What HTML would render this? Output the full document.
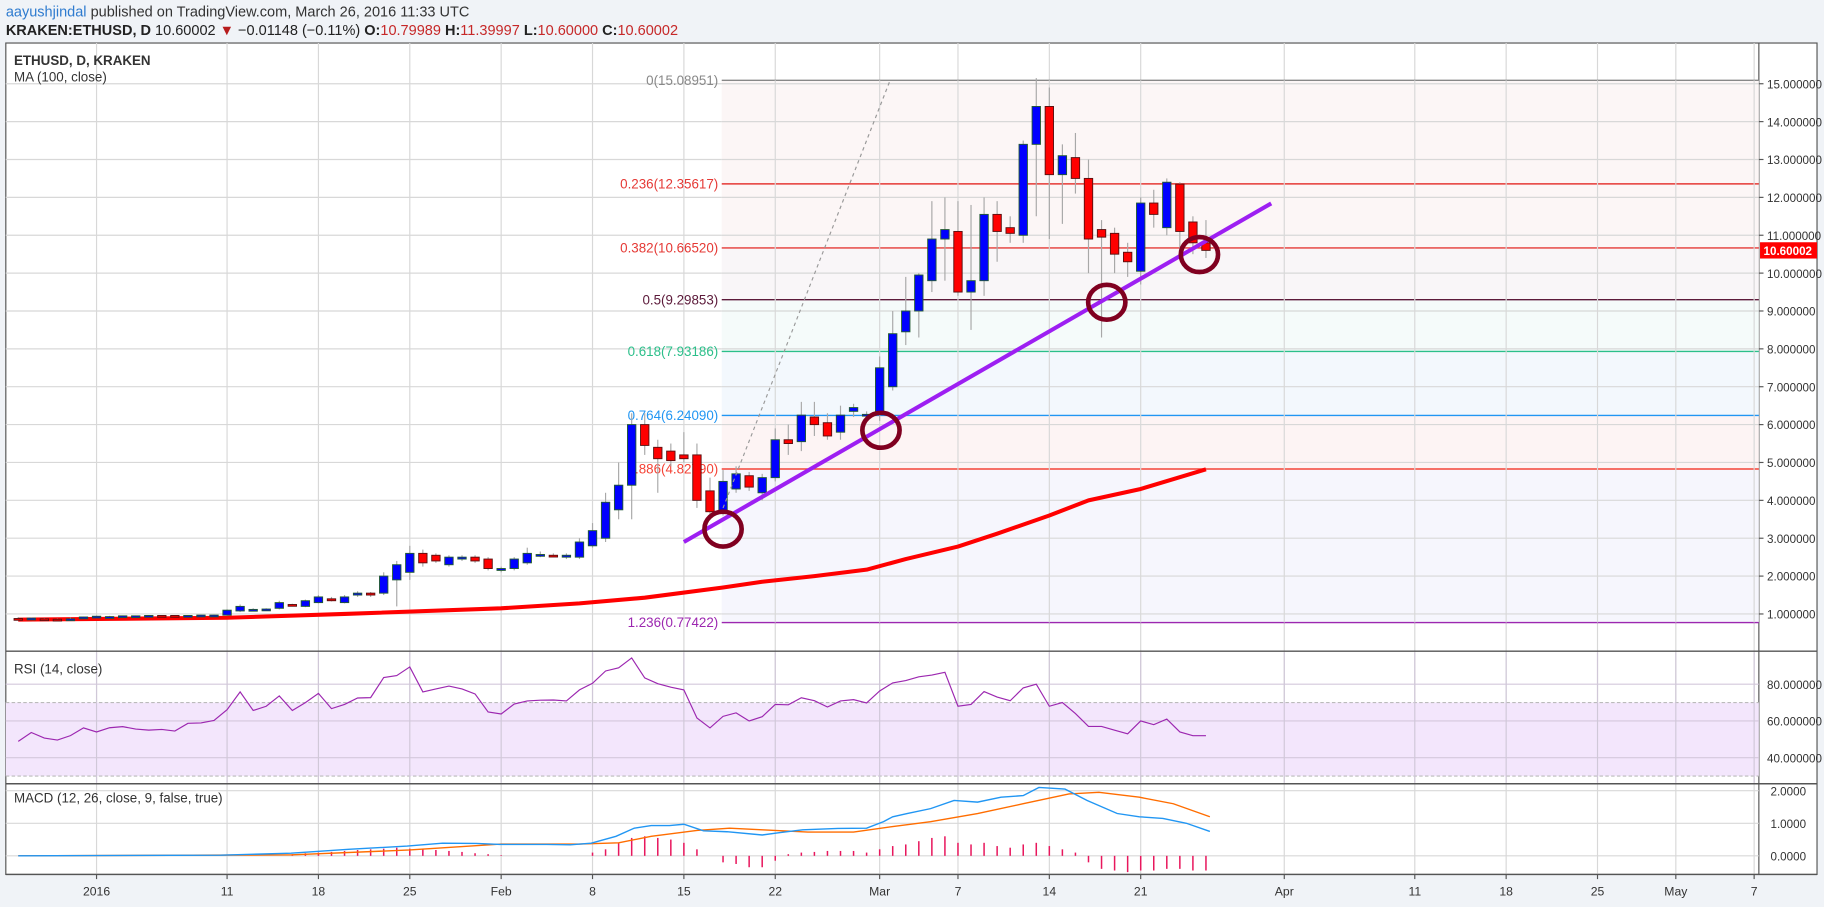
<!DOCTYPE html>
<html><head><meta charset="utf-8">
<style>
html,body{margin:0;padding:0;background:#f0f3f7;}
svg{display:block;font-family:"Liberation Sans",sans-serif;}
</style></head>
<body>
<svg id="chart" width="1824" height="907" viewBox="0 0 1568 780" preserveAspectRatio="none" xmlns="http://www.w3.org/2000/svg">
<rect x="0" y="0" width="1568" height="780" fill="#f0f3f7"/>
<text x="5" y="14" font-size="12.5" fill="#333"><tspan fill="#2e7bcf">aayushjindal</tspan> published on TradingView.com, March 26, 2016 11:33 UTC</text>
<text x="5" y="30" font-size="12.5" fill="#222"><tspan font-weight="bold">KRAKEN:ETHUSD, D</tspan> 10.60002 <tspan fill="#b71c1c">▼</tspan> −0.01148 (−0.11%) <tspan font-weight="bold">O:</tspan><tspan fill="#c62828">10.79989</tspan> <tspan font-weight="bold">H:</tspan><tspan fill="#c62828">11.39997</tspan> <tspan font-weight="bold">L:</tspan><tspan fill="#c62828">10.60000</tspan> <tspan font-weight="bold">C:</tspan><tspan fill="#c62828">10.60002</tspan></text>
<rect x="5" y="37" width="1557" height="715" fill="#fff" stroke="#555" stroke-width="1"/>
<g id="grid"></g>
<g id="fib"></g>
<g id="ma"></g>
<g id="candles"></g>
<g id="overlay"></g>
<g id="rsi"></g>
<g id="macd"></g>
<g id="axes"></g>
<text x="12" y="56" font-size="11.5" font-weight="bold" fill="#333">ETHUSD, D, KRAKEN</text>
<text x="12" y="70" font-size="11.5" fill="#333">MA (100, close)</text>
<text x="12" y="579" font-size="11.5" fill="#333">RSI (14, close)</text>
<text x="12" y="690" font-size="11.5" fill="#333">MACD (12, 26, close, 9, false, true)</text>
</svg>
<script>
const startDay=-6;
const opens=[0.88,0.86,0.87,0.86,0.85,0.90,0.93,0.93,0.94,0.95,0.95,0.96,0.96,0.95,0.97,0.97,
0.97,1.08,1.1,1.11,1.15,1.25,1.2,1.3,1.4,1.3,1.5,1.55,1.55,1.9,2.1,2.6,2.55,2.3,2.45,2.5,2.45,2.15,2.2,2.35,2.55,2.55,2.5,2.5,2.8,3.0,3.75,4.4,6.0,5.4,5.3,5.2,5.2,4.25,3.7,4.3,4.65,4.2,4.6,5.6,5.55,6.2,6.05,5.8,6.35,6.25,6.3,7.0,8.45,9.0,9.8,10.9,11.1,9.5,9.8,11.55,11.2,11.0,13.4,14.4,12.6,13.05,12.5,11.15,11.05,10.55,10.05,11.85,11.2,12.35,11.35,10.8];
const closes=[0.86,0.89,0.86,0.85,0.87,0.92,0.94,0.93,0.95,0.95,0.96,0.95,0.95,0.96,0.97,0.97,
1.10,1.2,1.12,1.13,1.3,1.24,1.35,1.45,1.35,1.45,1.55,1.5,2.0,2.3,2.6,2.35,2.4,2.5,2.5,2.4,2.2,2.2,2.45,2.6,2.57,2.53,2.55,2.9,3.2,3.95,4.4,6.0,5.45,5.1,5.05,5.1,4.0,3.7,4.5,4.7,4.35,4.6,5.6,5.5,6.25,6.0,5.7,6.25,6.45,6.27,7.5,8.4,9.0,9.95,10.9,11.15,9.5,9.8,11.55,11.1,11.05,13.4,14.4,12.6,13.1,12.5,10.9,10.95,10.5,10.3,11.85,11.55,12.4,11.1,10.8,10.6];
const highs=[0.92,0.9,0.89,0.88,0.9,0.93,0.95,0.95,0.96,0.96,0.97,0.97,0.97,0.97,0.98,0.98,
1.12,1.25,1.15,1.15,1.35,1.27,1.38,1.5,1.45,1.5,1.6,1.58,2.1,2.4,2.8,2.7,2.6,2.55,2.55,2.55,2.5,2.25,2.5,2.75,2.65,2.6,2.6,3.0,3.4,4.2,5.0,6.3,6.3,5.6,5.5,5.8,5.5,4.6,4.8,4.9,4.75,4.7,5.9,6.0,6.6,6.6,6.3,6.5,6.55,6.35,7.8,9.0,9.9,10.0,11.9,12.0,11.9,11.8,12.0,11.9,11.5,13.5,15.15,14.9,13.4,13.7,13.0,11.4,11.2,10.8,12.0,12.2,12.5,12.4,11.5,11.4];
const lows=[0.84,0.85,0.85,0.84,0.85,0.89,0.92,0.92,0.93,0.94,0.94,0.94,0.94,0.94,0.96,0.96,
0.95,1.05,1.08,1.09,1.12,1.22,1.18,1.28,1.33,1.28,1.45,1.45,1.5,1.2,1.9,2.25,2.35,2.25,2.4,2.35,2.15,2.1,2.15,2.3,2.5,2.5,2.45,2.45,2.75,2.9,3.5,3.5,5.2,4.2,4.9,5.0,3.8,3.5,3.6,4.2,4.25,4.0,4.5,5.2,5.3,5.7,5.6,5.6,6.2,6.1,6.1,6.9,8.1,8.3,9.5,9.8,9.4,8.5,9.4,10.3,10.8,10.8,11.5,10.9,11.3,12.1,10.0,8.3,10.0,9.9,9.7,11.2,11.0,10.6,10.5,10.4];
const maDays=[-6,10,19,31,37,42,48,51,55,59,62,66,69,73,76,80,85];
const maVals=[0.85,0.9,1.0,1.15,1.28,1.43,1.7,1.85,2.0,2.17,2.45,2.78,3.12,3.6,4.0,4.3,4.82];
const rsiVals=[48.9,53.7,50.7,49.6,52,56.2,54,56.3,56.9,55.6,55,55.4,54.5,58.7,58.9,60.3,66.1,75.8,65.7,68,73.6,65.7,70,75,66.7,69,72.5,72.7,83.6,84.7,89.4,75.8,77.4,79,77.4,74.7,64.9,63.8,69.2,70.9,71.3,71.4,70.9,76.9,80.5,87.2,88.9,94.3,83.4,80.3,78.4,76.9,61.6,56.2,62.5,64.4,60,62.3,69,68.8,72.6,71,67.6,70.9,71.6,69.8,76.3,80.7,
82,84,85,86.5,68,69,76,73,71,78,80,68,70,64,57,57,55,53,60,58,61,54,52,52];
const macdDays=[-6,9.5,14.9,19.3,23.8,26.5,29.1,30.9,34.5,36.3,37.9,39.8,41.2,42.5,43.9,45,46.5,48.3,51,52.3,54.1,56.8,59,60.3,61,62.1,63.9,65.7,67.5,69.3,71,72.2,74.2,75.9,78.2,79.9,81.7,83.5,85.3];
const macdVals=[0,0.02,0.08,0.2,0.3,0.39,0.38,0.35,0.35,0.34,0.39,0.6,0.85,0.93,0.93,0.97,0.77,0.74,0.64,0.71,0.8,0.84,0.85,1.05,1.2,1.3,1.45,1.7,1.65,1.8,1.85,2.1,2.05,1.7,1.3,1.2,1.15,1.0,0.75];
const signalDays=[-6,15,24,31,37,40,42.5,46,48.5,51,54.5,58,61,63.9,67.5,71,74.5,76.8,79.9,82.5,85.3];
const signalVals=[0,0.03,0.18,0.36,0.36,0.4,0.6,0.78,0.85,0.8,0.73,0.73,0.9,1.05,1.3,1.6,1.9,1.95,1.8,1.6,1.2];
const histVals=[0,0,0,0,0,0,0,0,0,0,0,0,0,0,0,0,0,0,0,0,0,
0.05,0.08,0.1,0.12,0.15,0.18,0.2,0.22,0.25,0.22,0.2,0.18,0.15,0.12,0.08,0.05,0.02,
0,0,0,0,0,0,
0.1,0.2,0.4,0.55,0.6,0.55,0.5,0.4,0.2,0,-0.2,-0.25,-0.35,-0.35,-0.15,0.05,0.1,0.12,0.15,0.15,0.15,0.1,0.2,0.3,0.35,0.45,0.55,0.6,0.4,0.35,0.4,0.3,0.25,0.35,0.4,0.3,0.2,0.1,-0.2,-0.4,-0.45,-0.5,-0.45,-0.45,-0.4,-0.4,-0.45,-0.45];
const timeLabels=["2016","11","18","25","Feb","8","15","22","Mar","7","14","21","Apr","11","18","25","May","7"];
const timeDays=[0,10,17,24,31,38,45,52,60,66,73,80,91,101,108,115,121,127];
const priceTicks=[1,2,3,4,5,6,7,8,9,10,11,12,13,14,15];
const rsiTicks=[80,60,40];
const macdTicks=[2,1,0];
const fibRatios=[0,0.236,0.382,0.5,0.618,0.764,0.886,1.236];
const fibPrices=[15.08951,12.35617,10.66520,9.29853,7.93186,6.24090,4.82790,0.77422];
const fibLabels=["0(15.08951)","0.236(12.35617)","0.382(10.66520)","0.5(9.29853)","0.618(7.93186)","0.764(6.24090)","0.886(4.82790)","1.236(0.77422)"];
const lastPrice=10.60002;

const NS="http://www.w3.org/2000/svg";
const PL=5,PR=1512;
const xD=d=>83+11.22*d;
const yP=p=>528-(p-1)*32.57;
const yR=v=>620-(v-60)*1.58;
const yM=v=>736-v*28;
function mk(parent,tag,attrs){const e=document.createElementNS(NS,tag);for(const k in attrs)e.setAttribute(k,attrs[k]);parent.appendChild(e);return e;}
const G=id=>document.getElementById(id);

// grid
const grid=G('grid');
timeDays.forEach((d,i)=>{const l=mk(grid,'line',{x1:xD(d),x2:xD(d),y1:37,y2:752,stroke:'#d8d8d8','stroke-width':1});

});
priceTicks.forEach(p=>{const l=mk(grid,'line',{x1:PL,x2:PR,y1:yP(p),y2:yP(p),stroke:'#d8d8d8'});

});
// pane separators
[[560],[674],[752]].forEach(a=>{const l=mk(grid,'line',{x1:PL,x2:1562,y1:a[0],y2:a[0],stroke:'#555','stroke-width':1.2});

});
const axl=mk(grid,'line',{x1:PR,x2:PR,y1:37,y2:752,stroke:'#555'});



// fib
const fib=G('fib');
const fx=xD(47.9);
const fibFills=['#fcf6f6','#fcf6f6','#f9f6f8','#f5fbfa','#f3f8fd','#fdf4f4','#f6f6fd'];
const fibColors=['#888','#e53935','#e53935','#5c1a3a','#2bbf8a','#2196f3','#f44336','#9c27b0'];
for(let i=0;i<fibPrices.length-1;i++){const r=mk(fib,'rect',{x:fx,y:yP(fibPrices[i]),width:PR-fx,height:yP(fibPrices[i+1])-yP(fibPrices[i]),fill:fibFills[i]});

}
fibPrices.forEach((p,i)=>{const l=mk(fib,'line',{x1:fx,x2:PR,y1:yP(p),y2:yP(p),stroke:fibColors[i],'stroke-width':1.2});


const t=mk(fib,'text',{x:fx-3,y:yP(p)+4,'text-anchor':'end','font-size':11.5,fill:fibColors[i]});t.textContent=fibLabels[i];

});
// redraw grid on top of fib zones lightly
priceTicks.forEach(p=>{if(yP(p)>yP(15.09)&&yP(p)<yP(0.774)){const l=mk(fib,'line',{x1:fx,x2:PR,y1:yP(p),y2:yP(p),stroke:'#d8d8d8'});

}});
timeDays.forEach(d=>{if(xD(d)>fx&&xD(d)<PR){const l=mk(fib,'line',{x1:xD(d),x2:xD(d),y1:yP(15.09),y2:yP(0.774),stroke:'#d8d8d8'});

}});

// MA
const maPts=maDays.map((d,i)=>xD(d)+','+yP(maVals[i])).join(' ');
const ma=mk(G('ma'),'polyline',{points:maPts,fill:'none',stroke:'#ff0000','stroke-width':3.5,'stroke-linejoin':'round'});



// candles
const cg=G('candles');
opens.forEach((o,i)=>{const d=startDay+i,c=closes[i],x=xD(d),up=c>=o;
const w=mk(cg,'line',{x1:x,x2:x,y1:yP(highs[i]),y2:yP(lows[i]),stroke:'#a8a8a8','stroke-width':1});


const top=yP(Math.max(o,c)),h=Math.max(yP(Math.min(o,c))-top,1.5);
const b=mk(cg,'rect',{x:x-3.6,y:top,width:7.2,height:h,fill:up?'#0000ff':'#ff0000',stroke:up?'#225a33':'#5a1010','stroke-width':0.8});

});

// overlay drawings
const ov=G('overlay');
const dl=mk(ov,'line',{x1:xD(48),y1:yP(3.8),x2:xD(60.8),y2:yP(15.09),stroke:'#999','stroke-width':1,'stroke-dasharray':'3,3'});


const tl=mk(ov,'line',{x1:xD(45),y1:yP(2.9),x2:xD(90),y2:yP(11.84),stroke:'#9d1ff2','stroke-width':3.5});


[[48,3.24],[60.1,5.85],[77.4,9.23],[84.5,10.49]].forEach(c=>{const e=mk(ov,'ellipse',{cx:xD(c[0]),cy:yP(c[1]),rx:16,ry:15,fill:'none',stroke:'#800020','stroke-width':4});

});

// RSI
const rg=G('rsi');
const band=mk(rg,'rect',{x:PL,y:yR(70),width:PR-PL,height:yR(30)-yR(70),fill:'#f3e6fc'});


rsiTicks.forEach(v=>{const l=mk(rg,'line',{x1:PL,x2:PR,y1:yR(v),y2:yR(v),stroke:'#d4c8dc'});

});
[70,30].forEach(v=>{const l=mk(rg,'line',{x1:PL,x2:PR,y1:yR(v),y2:yR(v),stroke:'#bbb','stroke-dasharray':'3,2'});

});
timeDays.forEach(d=>{const l=mk(rg,'line',{x1:xD(d),x2:xD(d),y1:561,y2:673,stroke:'#d0c8d8'});

});
const rl=mk(rg,'polyline',{points:rsiVals.map((v,i)=>xD(startDay+i)+','+yR(v)).join(' '),fill:'none',stroke:'#9c27b0','stroke-width':1});



// MACD
const mg=G('macd');
histVals.forEach((v,i)=>{if(v===0)return;const x=xD(startDay+i);
const l=mk(mg,'line',{x1:x,x2:x,y1:yM(0),y2:yM(v),stroke:'#e8175d','stroke-width':1.3});

});
const sl=mk(mg,'polyline',{points:signalDays.map((d,i)=>xD(d)+','+yM(signalVals[i])).join(' '),fill:'none',stroke:'#ff6d00','stroke-width':1.2});


const ml=mk(mg,'polyline',{points:macdDays.map((d,i)=>xD(d)+','+yM(macdVals[i])).join(' '),fill:'none',stroke:'#2196f3','stroke-width':1.2});


macdTicks.forEach(v=>{const l=mk(G('grid'),'line',{x1:PL,x2:PR,y1:yM(v),y2:yM(v),stroke:'#d8d8d8'});

});

// axes labels
const ax=G('axes');
priceTicks.forEach(p=>{const t=mk(ax,'text',{x:1519,y:yP(p)+4,'font-size':10,fill:'#333'});t.textContent=p.toFixed(6);


const k=mk(ax,'line',{x1:PR,x2:PR+4,y1:yP(p),y2:yP(p),stroke:'#555'});

});
rsiTicks.forEach(v=>{const t=mk(ax,'text',{x:1519,y:yR(v)+4,'font-size':10,fill:'#333'});t.textContent=v.toFixed(6);

});
macdTicks.forEach(v=>{const t=mk(ax,'text',{x:1522,y:yM(v)+4,'font-size':10,fill:'#333'});t.textContent=v.toFixed(4);

});
timeDays.forEach((d,i)=>{const t=mk(ax,'text',{x:xD(d),y:770,'text-anchor':'middle','font-size':10.5,fill:'#333'});t.textContent=timeLabels[i];


const k=mk(ax,'line',{x1:xD(d),x2:xD(d),y1:752,y2:756,stroke:'#555'});

});
const pb=mk(ax,'rect',{x:1513,y:yP(lastPrice)-7,width:49,height:14,fill:'#ff0000'});


const pt=mk(ax,'text',{x:1516,y:yP(lastPrice)+4,'font-size':10,'font-weight':'bold',fill:'#fff'});pt.textContent=lastPrice.toFixed(5);


</script>
</body></html>
